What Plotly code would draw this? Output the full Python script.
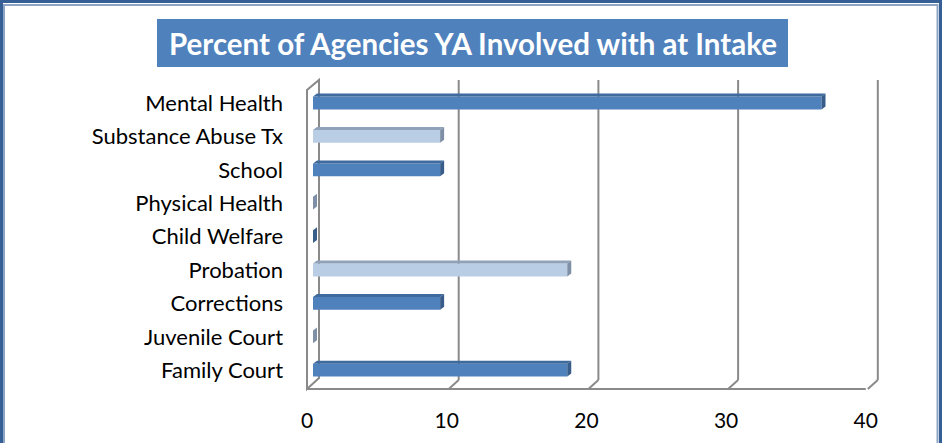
import plotly.graph_objects as go

# ---- data ----
categories = ["Mental Health", "Substance Abuse Tx", "School", "Physical Health",
              "Child Welfare", "Probation", "Corrections", "Juvenile Court", "Family Court"]
percent = [36.4, 9.1, 9.1, 0, 0, 18.2, 9.1, 0, 18.2]
x_ticks = [0, 10, 20, 30, 40]
title_text = "Percent of Agencies YA Involved with at Intake"

# ---- layout geometry (pixels) ----
W, H = 948, 443
def px(p):
    return p / W
def py(p):
    return 1 - p / H

X0_PX = 313.0          # bar-axis zero
PPU = 13.97            # pixels per unit
X_MAX = 40
X_PAD = 1.5            # extra axis room so 3D wall/grid shapes are not clipped
X1_PX = X0_PX + X_MAX * PPU
Y_TOP, Y_FLOOR, Y_BACKFLOOR = 80, 389, 380
Y_PADPX = 10
ROW0, ROWSTEP = 103.0, 33.4
n = len(categories)
dom_top, dom_bot = Y_TOP - Y_PADPX, Y_FLOOR + Y_PADPX
y_range = [(n - 1) + (dom_bot - (ROW0 + (n - 1) * ROWSTEP)) / ROWSTEP, -(ROW0 - dom_top) / ROWSTEP]
FACE_H = 12.8
BAR_W = FACE_H / ROWSTEP
DEPTH_X, DEPTH_Y = 4, 3
BACK, FRONT = 6, -6

dark = dict(front="#4F81BD", top="#3E6A9E", side="#385D8A")
light = dict(front="#B9CDE5", top="#8FA2BA", side="#7F90A6")
pal = [dark if i % 2 == 0 else light for i in range(n)]

idx = list(range(n))
fig = go.Figure()
fig.add_trace(go.Bar(
    x=percent, y=idx, orientation="h", width=BAR_W,
    marker=dict(color=[p["front"] for p in pal], line=dict(width=0)),
    hoverinfo="x+text", text=categories, textposition="none",
))

shapes = []
GRID = "#8A8A8A"
# bar 3D faces
d = DEPTH_X / PPU
for i, v in enumerate(percent):
    h = FACE_H / 2
    shapes.append(dict(type="path", xref="x", yref="y", ysizemode="pixel", yanchor=i,
                       path=f"M 0,{h} L {v},{h} L {v + d},{h + DEPTH_Y} L {d},{h + DEPTH_Y} Z",
                       fillcolor=pal[i]["top"], line=dict(width=0), layer="above"))
    shapes.append(dict(type="path", xref="x", yref="y", xsizemode="pixel", xanchor=v,
                       ysizemode="pixel", yanchor=i,
                       path=f"M 0,{h} L 0,{-h} L {DEPTH_X},{-h + DEPTH_Y} L {DEPTH_X},{h + DEPTH_Y} Z",
                       fillcolor=pal[i]["side"], line=dict(width=0), layer="above"))

# walls / gridlines
for v in x_ticks:
    if v == 0:
        shapes.append(dict(type="path", xref="x", xsizemode="pixel", xanchor=0, yref="paper",
                           path=(f"M {FRONT},{py(Y_FLOOR)} L {FRONT},{py(90)} L {BACK},{py(Y_TOP)} "
                                 f"L {BACK},{py(378)} Z"),
                           line=dict(color=GRID, width=2), layer="below"))
    else:
        shapes.append(dict(type="line", xref="x", xsizemode="pixel", xanchor=v, yref="paper",
                           x0=BACK, x1=BACK, y0=py(Y_BACKFLOOR), y1=py(Y_TOP),
                           line=dict(color=GRID, width=2), layer="below"))
        shapes.append(dict(type="line", xref="x", xsizemode="pixel", xanchor=v, yref="paper",
                           x0=BACK, x1=FRONT + 2, y0=py(Y_BACKFLOOR), y1=py(Y_FLOOR),
                           line=dict(color=GRID, width=2), layer="below"))
# floor line
shapes.append(dict(type="line", xref="x", yref="paper",
                   x0=x_ticks[0] + FRONT / PPU, x1=x_ticks[-1] + FRONT / PPU,
                   y0=py(Y_FLOOR), y1=py(Y_FLOOR), line=dict(color=GRID, width=2), layer="below"))

# frame
shapes.append(dict(type="rect", xref="paper", yref="paper", x0=px(1.5), x1=px(940.5),
                   y0=py(460), y1=py(1.5), line=dict(color="#355F95", width=3)))
shapes.append(dict(type="rect", xref="paper", yref="paper", x0=px(4), x1=px(937.5),
                   y0=py(460), y1=py(5), line=dict(color="#8DA4C4", width=2)))
# title box
shapes.append(dict(type="rect", xref="paper", yref="paper", x0=px(157), x1=px(788),
                   y0=py(67), y1=py(19), fillcolor="#4F81BD", line=dict(width=0)))

fig.update_layout(
    template="none",
    width=W, height=H, margin=dict(l=0, r=0, t=0, b=0, autoexpand=False),
    paper_bgcolor="white", plot_bgcolor="rgba(0,0,0,0)",
    showlegend=False, shapes=shapes,
    font=dict(family="Lato", color="#000000"),
    xaxis=dict(domain=[px(X0_PX - X_PAD * PPU), px(X1_PX + X_PAD * PPU)],
               range=[-X_PAD, X_MAX + X_PAD], tickvals=x_ticks,
               showgrid=False, zeroline=False, showline=False, ticks="", automargin=False,
               tickfont=dict(size=21, color="#000000"), ticklabelshift=FRONT,
               ticklabelstandoff=17 - Y_PADPX, fixedrange=True),
    yaxis=dict(domain=[py(dom_bot), py(dom_top)], range=y_range, tickvals=idx, ticktext=categories,
               showgrid=False, zeroline=False, showline=False, ticks="", automargin=False,
               tickfont=dict(size=22, color="#000000"),
               ticklabelstandoff=round(29 - X_PAD * PPU), fixedrange=True),
    annotations=[dict(text=f"<b>{title_text}</b>", xref="paper", yref="paper",
                      x=px(472.5), y=py(43), xanchor="center", yanchor="middle", showarrow=False,
                      font=dict(family="Lato", size=29.5, color="white"))],
)

fig.write_html("out.html", post_script="document.body.style.margin='0px';",
               config={"displayModeBar": False})
